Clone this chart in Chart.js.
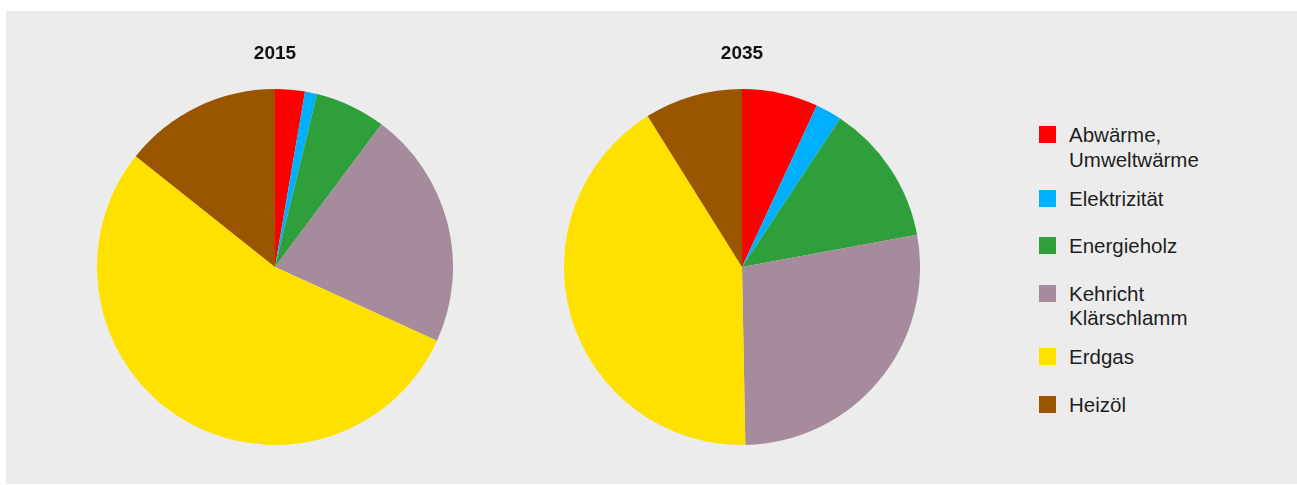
<!DOCTYPE html>
<html>
<head>
<meta charset="utf-8">
<script src="https://cdn.jsdelivr.net/npm/chart.js@4/dist/chart.umd.min.js"></script>
<style>
  body { margin: 0; background: #fff; width: 1297px; height: 485px; overflow: hidden; position: relative; font-family: "Liberation Sans", Arial, sans-serif; }
  #panel { position: absolute; left: 6px; top: 11px; width: 1291px; height: 473px; background: #ececec; }
  .pie { position: absolute; top: 30px; width: 356px; height: 415px; }
  #legend { position: absolute; left: 1039px; top: 0; }
  .item { position: absolute; left: 0; white-space: nowrap; }
  .sw { position: absolute; left: 0; top: 3px; width: 17px; height: 17px; }
  .txt { position: absolute; left: 30px; top: 0; font-size: 20.5px; line-height: 24.5px; color: #1e1e1e; }
</style>
</head>
<body>
<div id="panel"></div>
<div class="pie" style="left:97px"><canvas id="pie2015"></canvas></div>
<div class="pie" style="left:564px"><canvas id="pie2035"></canvas></div>
<div id="legend"></div>
<script>
const categories = [
    ["Abwärme,", "Umweltwärme"],
    ["Elektrizität"],
    ["Energieholz"],
    ["Kehricht", "Klärschlamm"],
    ["Erdgas"],
    ["Heizöl"],
]
const colors = ['#ff0000', '#00b0ff', '#2e9f3a', '#a68b9c', '#ffe100', '#995500']

// shares in percent
const values2015 = [2.7, 1.1, 6.4, 21.6, 53.9, 14.3]
const values2035 = [6.9, 2.4, 12.8, 27.6, 41.4, 8.9]

function makePie(id, title, values) {
    return new Chart(document.getElementById(id), {
        type: 'pie',
        data: {
            labels: categories,
            datasets: [{
                data: values,
                backgroundColor: colors,
                borderWidth: 0,
                hoverOffset: 0
            }]
        },
        options: {
            responsive: true,
            maintainAspectRatio: false,
            animation: false,
            layout: { padding: 0 },
            plugins: {
                legend: { display: false },
                tooltip: { enabled: false },
                title: {
                    display: true,
                    text: title,
                    color: '#111',
                    font: { family: '"Liberation Sans", Arial, sans-serif', size: 19, weight: 'bold' },
                    padding: { top: 12.3, bottom: 23.9 }
                }
            }
        }
    })
}

makePie('pie2015', '2015', values2015)
makePie('pie2035', '2035', values2035)

// html legend
const legend = document.getElementById('legend')
let itemTop = 126 - 3
categories.forEach((lines, i) => {
    const item = document.createElement('div')
    item.className = 'item'
    item.style.top = itemTop + 'px'
    const sw = document.createElement('div')
    sw.className = 'sw'
    sw.style.background = colors[i]
    const txt = document.createElement('div')
    txt.className = 'txt'
    txt.innerHTML = lines.join('<br>')
    item.appendChild(sw)
    item.appendChild(txt)
    legend.appendChild(item)
    itemTop += lines.length > 1 ? 63.5 : 47.5
})
</script>
</body>
</html>
